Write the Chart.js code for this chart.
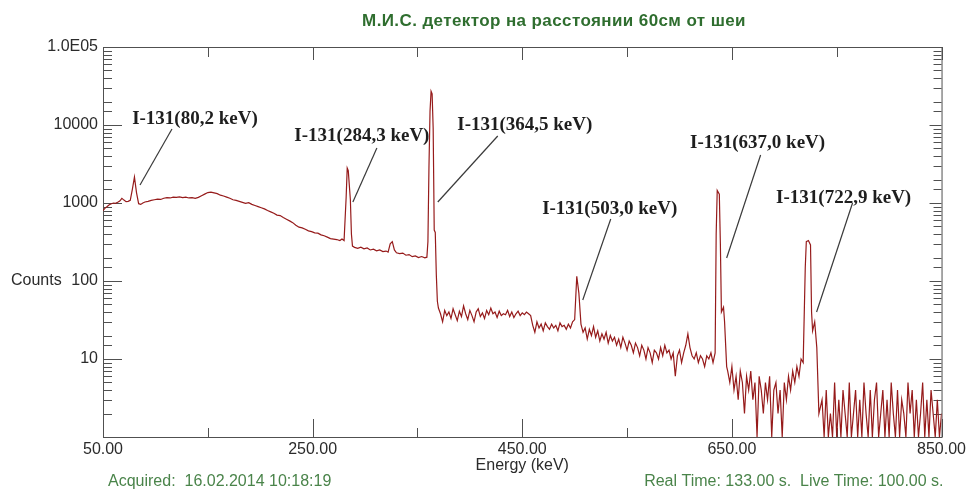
<!DOCTYPE html>
<html>
<head>
<meta charset="utf-8">
<title>Spectrum</title>
<script src="https://cdn.jsdelivr.net/npm/chart.js@4.4.0/dist/chart.umd.min.js"></script>
<style>
    html, body { margin: 0; padding: 0; background: #fff; }
</style>
</head>
<body>
<canvas id="spectrum" width="969" height="490"></canvas>
<script>
(function () {
    'use strict';

    // spectrum: energy (keV) and counts per point
    var energyKeV = [
        50, 52, 54, 56, 58, 60, 62, 64, 66, 68, 70, 72, 74, 76, 78, 80, 82, 84, 86, 88, 90,
        93, 96, 99, 102, 105, 108, 111, 114, 117, 120, 123, 126, 129, 132, 135,
        138, 141, 144, 147, 150, 153, 156, 159, 162, 165, 168, 171, 174, 177, 180,
        183, 186, 189, 192, 195, 198, 201, 204, 207, 210, 213, 216, 219, 222, 225, 228,
        231, 234, 237, 240, 243, 246, 249, 252, 255, 258, 261, 264, 267, 270, 273, 276, 278, 280,
        282, 283, 284, 286, 287, 288, 290, 293, 296, 299, 302, 305, 308, 311, 314, 317, 320,
        322, 324, 326, 328, 330, 333, 336, 339, 342, 345, 348, 351, 354, 357, 359,
        360, 361, 362, 363, 364, 365, 366, 367, 368, 369,
        370, 372, 374, 376, 378, 380, 382, 384, 386, 388, 390, 392, 394, 396, 398,
        400, 402, 404, 406, 408, 410, 412, 414, 416, 418, 420, 422, 424, 426, 428,
        430, 432, 434, 436, 438, 440, 442, 444, 446, 448, 450, 452, 454, 456, 458,
        460, 462, 464, 466, 468, 470, 472, 474, 476, 478, 480, 482, 484, 486, 488, 490, 492, 494, 496, 498,
        500, 502, 504, 506, 508, 510, 512, 514, 516, 518, 520, 522, 524, 526, 528, 530, 532, 534, 536, 538,
        540, 542, 544, 546, 548, 550, 552, 554, 556, 558, 560, 562, 564, 566, 568, 570, 572, 574, 576, 578,
        580, 582, 584, 586, 588, 590, 592, 594, 596, 598, 600, 602, 604, 606, 608, 610, 612, 614, 616, 618,
        620, 622, 624, 626, 628, 630, 632,
        634, 635, 636, 638, 639, 640, 642, 643, 645,
        646, 648, 650, 652, 654, 656, 658, 660, 662, 664, 666, 668, 670, 672, 674, 676, 678, 680,
        682, 684, 686, 688, 690, 692, 694, 696, 698, 700, 702, 704, 706, 708, 710, 712, 714, 716,
        718, 720, 721, 723, 725, 726, 727, 729, 731, 733,
        736, 738, 740, 742, 744, 746, 748, 750, 752, 754, 756, 758, 760, 762, 764, 766, 768, 770,
        772, 774, 776, 778, 780, 782, 784, 786, 788, 790, 792, 794, 796, 798, 800, 802, 804, 806,
        808, 810, 812, 814, 816, 818, 820, 822, 824, 826, 828, 830, 832, 834, 836, 838, 840, 842,
        844, 846, 848, 850
    ];
    var counts = [
        800, 860, 900, 950, 980, 1000, 990, 1020, 1060, 1150, 1090, 1040, 1050, 1080, 1500, 2150, 1350, 980, 960, 1000, 1030,
        1050, 1080, 1100, 1120, 1110, 1150, 1170, 1160, 1190, 1180, 1200, 1170, 1190, 1160, 1170,
        1150, 1180, 1240, 1300, 1360, 1380, 1350, 1320, 1260, 1230, 1190, 1150, 1100, 1080, 1050,
        1020, 990, 1010, 960, 930, 900, 870, 840, 800, 770, 740, 700, 690, 650, 620, 590,
        560, 520, 490, 480, 460, 440, 430, 415, 410, 390, 380, 365, 350, 345, 340, 330, 345, 330,
        1200, 2800, 2600, 1100, 400, 280, 270, 262, 272, 258, 265, 250, 256, 244, 250, 238, 242,
        235, 300, 320, 250, 230, 225, 228, 214, 218, 205, 210, 200, 206, 198, 202,
        320, 3000, 15000, 27000, 25000, 9000, 450, 420, 120, 55,
        45, 38, 30, 42, 36, 40, 33, 44, 37, 31, 41, 35, 48, 38, 32,
        42, 36, 30, 40, 44, 35, 39, 33, 42, 37, 45, 38, 40, 34, 41,
        36, 38, 37, 42, 35, 40, 34, 38, 41, 36, 39, 37, 40, 38, 36,
        27, 22, 30, 25, 28, 23, 29, 26, 24, 28, 25, 27, 23, 29, 26, 27, 24, 28, 25, 30,
        32, 115, 70, 28, 22, 25, 18, 24, 20, 26, 19, 23, 17, 21, 18, 22, 16, 20, 17, 19,
        15, 18, 14, 19, 16, 13, 17, 15, 12, 16, 14, 11, 15, 13, 10, 14, 12, 9, 13, 12,
        10, 14, 11, 15, 12, 13, 10, 12, 6, 11, 13, 9, 12, 15, 21, 14, 11, 10, 12, 9,
        11, 10, 8, 11, 10, 12, 9,
        12, 400, 1450, 1300, 300, 40, 46, 30, 8,
        7, 5, 8, 4, 6, 3, 7, 5, 2, 6, 4, 7, 3, 5, 1, 6, 4, 2,
        5, 3, 6, 1, 4, 5, 2, 4, 1, 5, 3, 6, 4, 7, 5, 8, 6, 10,
        9, 150, 320, 330, 290, 40, 23, 30, 14, 2,
        3, 1, 4, 1, 2, 1, 5, 1, 3, 1, 4, 2, 1, 5, 1, 2, 4, 1,
        3, 1, 5, 2, 1, 4, 1, 3, 5, 1, 2, 4, 1, 3, 1, 5, 2, 1,
        4, 1, 3, 2, 1, 5, 2, 4, 1, 3, 1, 2, 5, 1, 3, 1, 4, 2,
        1, 3, 1, 2
    ];

    // axis ticks
    var xMajorTicks = [50, 250, 450, 650, 850];
    var xTickText = ['50.00', '250.00', '450.00', '650.00', '850.00'];
    var yMajorTicks = [10, 100, 1000, 10000, 100000];
    var yTickText = ['10', '100', '1000', '10000', '1.0E05'];

    // peak annotations: text, text centre and leader line ends, in (keV, counts)
    var peakNames = ['I-131(80,2 keV)', 'I-131(284,3 keV)', 'I-131(364,5 keV)',
        'I-131(503,0 keV)', 'I-131(637,0 keV)', 'I-131(722,9 keV)'];
    var peakTextAt = [[137.7, 11940], [297.0, 7230], [452.4, 10000], [533.4, 838], [674.5, 5880], [756.6, 1159]];
    var peakLineFrom = [[115.8, 8890], [311.3, 5070], [426.6, 7230], [534.4, 623], [677.4, 4125], [765.1, 1000]];
    var peakLineTo = [[85.3, 1702], [288.4, 1030], [369.4, 1030], [507.7, 57], [645.0, 197], [730.8, 40]];

    var title = 'М.И.С. детектор на расстоянии 60см от шеи';
    var footLeft = 'Acquired:  16.02.2014 10:18:19';
    var footRight = 'Real Time: 133.00 s.  Live Time: 100.00 s.';

    var points = energyKeV.map(function (e, i) { return { x: e, y: counts[i] }; });

    Chart.defaults.font.family = '"Liberation Sans", Arial, sans-serif';
    Chart.defaults.font.size = 16;
    Chart.defaults.color = '#2b2b2b';

    var isPow10 = function (v) {
        var l = Math.log10(v);
        return Math.abs(l - Math.round(l)) < 1e-9;
    };

    var frame = {
        id: 'frame',
        beforeDatasetsDraw: function (chart) {
            var a = chart.chartArea, ctx = chart.ctx, xs = chart.scales.x, ys = chart.scales.y;
            ctx.save();
            ctx.strokeStyle = '#505050';
            ctx.lineWidth = 1;
            ctx.strokeRect(a.left + 0.5, a.top + 0.5, a.right - a.left, a.bottom - a.top);
            ctx.beginPath();
            xs.ticks.forEach(function (t) {
                var px = Math.round(xs.getPixelForValue(t.value)) + 0.5;
                var major = xMajorTicks.indexOf(t.value) >= 0;
                ctx.moveTo(px, a.bottom);
                ctx.lineTo(px, a.bottom - (major ? 18 : 9));
                ctx.moveTo(px, a.top);
                ctx.lineTo(px, a.top + (major ? 13 : 10));
            });
            ys.ticks.forEach(function (t) {
                var py = Math.round(ys.getPixelForValue(t.value)) + 0.5;
                var major = isPow10(t.value);
                ctx.moveTo(a.left, py);
                ctx.lineTo(a.left + (major ? 19 : 9), py);
                ctx.moveTo(a.right, py);
                ctx.lineTo(a.right - (major ? 12 : 8), py);
            });
            ctx.stroke();
            ctx.restore();
        },
        afterDatasetsDraw: function (chart) {
            var ctx = chart.ctx, xs = chart.scales.x, ys = chart.scales.y;
            var px = function (p) { return [xs.getPixelForValue(p[0]), ys.getPixelForValue(p[1])]; };
            ctx.save();
            ctx.strokeStyle = '#3a3a3a';
            ctx.lineWidth = 1.2;
            ctx.fillStyle = '#1e1e1e';
            ctx.font = 'bold 19px "Liberation Serif", "Times New Roman", serif';
            ctx.textAlign = 'center';
            ctx.textBaseline = 'middle';
            peakNames.forEach(function (name, i) {
                var t = px(peakTextAt[i]), f = px(peakLineFrom[i]), e = px(peakLineTo[i]);
                ctx.fillText(name, t[0], t[1]);
                ctx.beginPath();
                ctx.moveTo(f[0], f[1]);
                ctx.lineTo(e[0], e[1]);
                ctx.stroke();
            });
            ctx.restore();
        },
        afterDraw: function (chart) {
            var ctx = chart.ctx, a = chart.chartArea;
            ctx.save();
            ctx.textBaseline = 'middle';
            ctx.fillStyle = '#2f6e2f';
            ctx.font = 'bold 17px "Liberation Sans", Arial, sans-serif';
            ctx.textAlign = 'center';
            if ('letterSpacing' in ctx) ctx.letterSpacing = '0.4px';
            ctx.fillText(title, 554, 21);
            if ('letterSpacing' in ctx) ctx.letterSpacing = '0px';
            ctx.fillStyle = '#2b2b2b';
            ctx.font = '16px "Liberation Sans", Arial, sans-serif';
            ctx.textAlign = 'left';
            ctx.fillText('Counts', 11, chart.scales.y.getPixelForValue(100));
            ctx.fillStyle = '#4a844a';
            ctx.fillText(footLeft, a.left + 5, 482);
            ctx.textAlign = 'right';
            ctx.fillText(footRight, a.right + 2, 482);
            ctx.restore();
        }
    };

    new Chart(document.getElementById('spectrum'), {
        type: 'line',
        data: {
            datasets: [{
                data: points,
                borderColor: '#961b1b',
                borderWidth: 1.2,
                pointRadius: 0,
                tension: 0,
                fill: false
            }]
        },
        options: {
            responsive: false,
            animation: false,
            layout: { padding: { top: 47, right: 27, left: 0, bottom: 0 } },
            plugins: { legend: { display: false }, tooltip: { enabled: false } },
            scales: {
                x: {
                    type: 'linear',
                    min: 50,
                    max: 850,
                    grid: { display: false, drawTicks: false },
                    border: { display: false },
                    afterFit: function (s) { s.height = 53; },
                    ticks: {
                        stepSize: 100,
                        autoSkip: false,
                        maxRotation: 0,
                        padding: 3,
                        callback: function (v) {
                            var i = xMajorTicks.indexOf(v);
                            return i >= 0 ? xTickText[i] : '';
                        }
                    },
                    title: { display: true, text: 'Energy (keV)', padding: { top: 0, bottom: 15 } }
                },
                y: {
                    type: 'logarithmic',
                    min: 1,
                    max: 100000,
                    grid: { display: false, drawTicks: false },
                    border: { display: false },
                    afterFit: function (s) { s.width = 103; },
                    ticks: {
                        autoSkip: false,
                        padding: 5,
                        callback: function (v) {
                            var i = yMajorTicks.indexOf(v);
                            return i >= 0 ? yTickText[i] : '';
                        }
                    }
                }
            }
        },
        plugins: [frame]
    });
})();
</script>
</body>
</html>
